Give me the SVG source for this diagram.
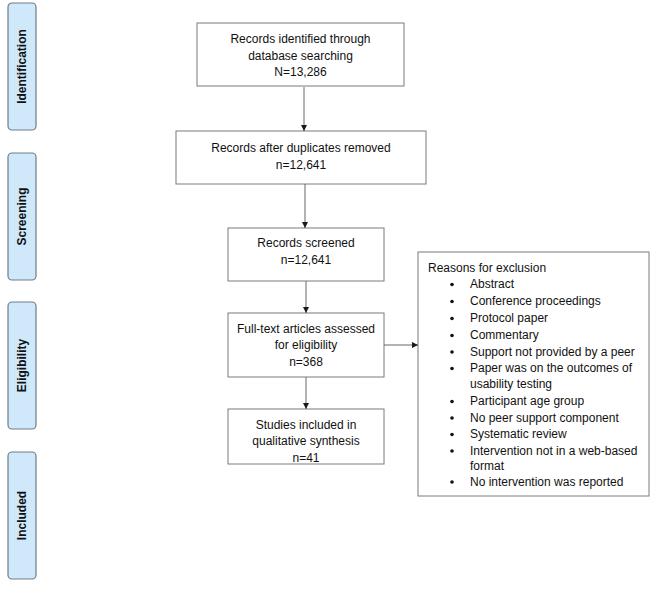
<svg xmlns="http://www.w3.org/2000/svg" width="660" height="590" viewBox="0 0 660 590">
<defs>
<marker id="ah" markerWidth="8" markerHeight="8" refX="6" refY="3.5" orient="auto" markerUnits="userSpaceOnUse">
<path d="M0,0.5 L6,3.5 L0,6.5 Z" fill="#1a1a1a"/>
</marker>
</defs>
<style>
.stage rect{fill:#cfe9fb;stroke:#6f7c88;stroke-width:1.2}
.stage text{font-family:"Liberation Sans",Arial,sans-serif;font-weight:bold;font-size:12px;fill:#111;text-anchor:middle;dominant-baseline:central}
.box rect{fill:#fff;stroke:#7a7a7a;stroke-width:1}
.box text{font-family:"Liberation Sans",Arial,sans-serif;font-size:12px;fill:#111;text-anchor:middle;dominant-baseline:central}
.ex text{text-anchor:start}
.conn line{stroke:#666;stroke-width:1;marker-end:url(#ah)}
</style>
<rect width="660" height="590" fill="#fff"/>
<g id="stage-identification" class="stage"><rect x="8" y="3" width="28" height="127" rx="4"/><text transform="translate(22,66.5) rotate(-90)">Identification</text></g>
<g id="stage-screening" class="stage"><rect x="8" y="153" width="28" height="127" rx="4"/><text transform="translate(22,216.5) rotate(-90)">Screening</text></g>
<g id="stage-eligibility" class="stage"><rect x="8" y="302" width="28" height="127" rx="4"/><text transform="translate(22,365.5) rotate(-90)">Eligibility</text></g>
<g id="stage-included" class="stage"><rect x="8" y="452" width="28" height="127" rx="4"/><text transform="translate(22,515.5) rotate(-90)">Included</text></g>

<g id="identified" class="box"><rect x="197" y="23" width="207" height="63"/>
<text x="300.5" y="39">Records identified through</text><text x="300.5" y="56">database searching</text><text x="300.5" y="72">N=13,286</text></g>
<g id="dedup" class="box"><rect x="176" y="131" width="250" height="53"/>
<text x="301" y="148">Records after duplicates removed</text><text x="301" y="165">n=12,641</text></g>
<g id="screened" class="box"><rect x="228" y="228" width="156" height="53"/>
<text x="306" y="243">Records screened</text><text x="306" y="260">n=12,641</text></g>
<g id="fulltext" class="box"><rect x="228" y="313" width="156" height="64"/>
<text x="306" y="329">Full-text articles assessed</text><text x="306" y="345">for eligibility</text><text x="306" y="362">n=368</text></g>
<g id="included" class="box"><rect x="228" y="409" width="156" height="55"/>
<text x="306" y="425">Studies included in</text><text x="306" y="441">qualitative synthesis</text><text x="306" y="458">n=41</text></g>
<g id="exclusion" class="box ex"><rect x="418" y="252" width="231" height="244"/>
<text x="428" y="268">Reasons for exclusion</text>
<g fill="#111"><circle cx="452" cy="284.5" r="1.8"/><circle cx="452" cy="301.5" r="1.8"/><circle cx="452" cy="318.5" r="1.8"/><circle cx="452" cy="335.5" r="1.8"/><circle cx="452" cy="352" r="1.8"/><circle cx="452" cy="368.5" r="1.8"/><circle cx="452" cy="401.5" r="1.8"/><circle cx="452" cy="418" r="1.8"/><circle cx="452" cy="434.5" r="1.8"/><circle cx="452" cy="451" r="1.8"/><circle cx="452" cy="482" r="1.8"/></g>
<text x="470" y="284">Abstract</text>
<text x="470" y="301">Conference proceedings</text>
<text x="470" y="318">Protocol paper</text>
<text x="470" y="335">Commentary</text>
<text x="470" y="352">Support not provided by a peer</text>
<text x="470" y="368">Paper was on the outcomes of</text>
<text x="470" y="384">usability testing</text>
<text x="470" y="401">Participant age group</text>
<text x="470" y="418">No peer support component</text>
<text x="470" y="434">Systematic review</text>
<text x="470" y="451">Intervention not in a web-based</text>
<text x="470" y="466">format</text>
<text x="470" y="482">No intervention was reported</text>
</g>

<g id="connectors" class="conn">
<line x1="304" y1="87" x2="304" y2="131"/>
<line x1="305" y1="184" x2="305" y2="228"/>
<line x1="306" y1="281" x2="306" y2="313"/>
<line x1="306" y1="377" x2="306" y2="409"/>
<line x1="384" y1="345" x2="418" y2="345"/>
</g>
</svg>
